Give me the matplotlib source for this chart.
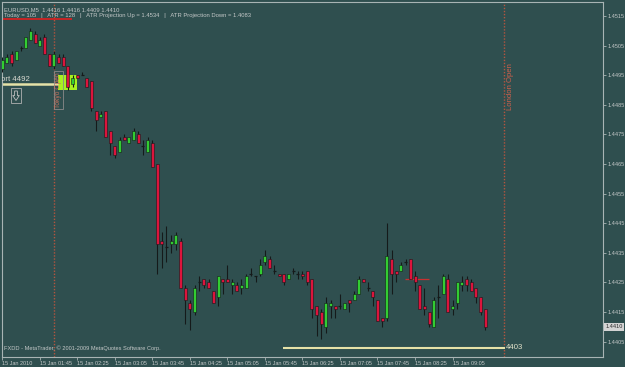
import matplotlib
matplotlib.use('Agg')
import matplotlib.pyplot as plt
from matplotlib.patches import Rectangle, Polygon
import numpy as np

# EURUSD M5, 15 Jan 2010, bars from 01:05 to 09:40
opens = [
    1.4497, 1.4499, 1.4502, 1.4500, 1.4504, 1.4504, 1.4507, 1.4509,
    1.4505, 1.4508, 1.4502, 1.4498, 1.4501, 1.4501, 1.4498, 1.4492,
    1.4495, 1.4495, 1.4494, 1.4493, 1.4483, 1.4481, 1.4483, 1.4476,
    1.4471, 1.4469, 1.4474, 1.4472, 1.4473, 1.4475, 1.4471, 1.4469,
    1.4472, 1.4465, 1.4439, 1.4437, 1.4438, 1.4438, 1.4439, 1.4423,
    1.4418, 1.4415, 1.4425, 1.4426, 1.4425, 1.4422, 1.4420, 1.4426,
    1.4426, 1.4424, 1.4424, 1.4423, 1.4423, 1.4428, 1.4427, 1.4428,
    1.4432, 1.4433, 1.4429, 1.4428, 1.4428, 1.4426, 1.4429, 1.4428,
    1.4428, 1.4429, 1.4426, 1.4417, 1.4415, 1.4410, 1.4417, 1.4417,
    1.4417, 1.4416, 1.4419, 1.4419, 1.4421, 1.4426, 1.4423, 1.4422,
    1.4419, 1.4413, 1.4413, 1.4433, 1.4429, 1.4429, 1.4432, 1.4433,
    1.4427, 1.4424, 1.4417, 1.4415, 1.4410, 1.4420, 1.4421, 1.4426,
    1.4416, 1.4418, 1.4424, 1.4426, 1.4425, 1.4423, 1.4420, 1.4416,
]
highs = [
    1.4501, 1.4502, 1.4503, 1.4503, 1.4505, 1.4508, 1.4511, 1.4510,
    1.4508, 1.4509, 1.4502, 1.4503, 1.4502, 1.4502, 1.4498, 1.4495,
    1.4495, 1.4496, 1.4494, 1.4493, 1.4483, 1.4483, 1.4483, 1.4476,
    1.4471, 1.4474, 1.4475, 1.4474, 1.4477, 1.4476, 1.4473, 1.4474,
    1.4473, 1.4465, 1.4442, 1.4444, 1.4441, 1.4442, 1.4440, 1.4424,
    1.4419, 1.4424, 1.4427, 1.4426, 1.4426, 1.4422, 1.4427, 1.4426,
    1.4431, 1.4426, 1.4425, 1.4426, 1.4428, 1.4430, 1.4427, 1.4433,
    1.4436, 1.4434, 1.4431, 1.4428, 1.4428, 1.4428, 1.4430, 1.4429,
    1.4429, 1.4429, 1.4426, 1.4417, 1.4416, 1.4420, 1.4419, 1.4417,
    1.4421, 1.4418, 1.4419, 1.4422, 1.4427, 1.4426, 1.4425, 1.4422,
    1.4419, 1.4413, 1.4445, 1.4436, 1.4429, 1.4432, 1.4433, 1.4433,
    1.4429, 1.4424, 1.4423, 1.4415, 1.4420, 1.4424, 1.4428, 1.4428,
    1.4419, 1.4425, 1.4427, 1.4427, 1.4426, 1.4423, 1.4420, 1.4416,
]
lows = [
    1.4496, 1.4499, 1.4498, 1.4500, 1.4503, 1.4504, 1.4507, 1.4506,
    1.4505, 1.4502, 1.4498, 1.4497, 1.4499, 1.4498, 1.4490, 1.4491,
    1.4494, 1.4495, 1.4491, 1.4483, 1.4476, 1.4481, 1.4474, 1.4468,
    1.4467, 1.4469, 1.4473, 1.4472, 1.4473, 1.4472, 1.4468, 1.4469,
    1.4464, 1.4428, 1.4430, 1.4432, 1.4435, 1.4436, 1.4423, 1.4411,
    1.4409, 1.4414, 1.4422, 1.4423, 1.4423, 1.4418, 1.4417, 1.4421,
    1.4425, 1.4421, 1.4422, 1.4421, 1.4423, 1.4427, 1.4425, 1.4427,
    1.4431, 1.4430, 1.4428, 1.4427, 1.4424, 1.4426, 1.4428, 1.4426,
    1.4426, 1.4424, 1.4413, 1.4407, 1.4406, 1.4408, 1.4413, 1.4413,
    1.4416, 1.4416, 1.4415, 1.4419, 1.4421, 1.4425, 1.4422, 1.4417,
    1.4412, 1.4410, 1.4412, 1.4421, 1.4425, 1.4429, 1.4431, 1.4426,
    1.4422, 1.4416, 1.4414, 1.4410, 1.4410, 1.4413, 1.4421, 1.4415,
    1.4414, 1.4416, 1.4422, 1.4422, 1.4422, 1.4418, 1.4414, 1.4409,
]
closes = [
    1.4500, 1.4501, 1.4499, 1.4503, 1.4504, 1.4508, 1.4510, 1.4506,
    1.4507, 1.4502, 1.4498, 1.4502, 1.4499, 1.4498, 1.4491, 1.4494,
    1.4494, 1.4495, 1.4491, 1.4484, 1.4480, 1.4482, 1.4474, 1.4472,
    1.4468, 1.4473, 1.4473, 1.4474, 1.4476, 1.4472, 1.4471, 1.4473,
    1.4464, 1.4438, 1.4438, 1.4437, 1.4439, 1.4441, 1.4423, 1.4419,
    1.4416, 1.4423, 1.4425, 1.4424, 1.4423, 1.4418, 1.4427, 1.4425,
    1.4425, 1.4425, 1.4422, 1.4424, 1.4427, 1.4428, 1.4427, 1.4431,
    1.4434, 1.4430, 1.4429, 1.4427, 1.4425, 1.4428, 1.4429, 1.4428,
    1.4427, 1.4425, 1.4416, 1.4414, 1.4411, 1.4418, 1.4418, 1.4416,
    1.4417, 1.4418, 1.4418, 1.4421, 1.4426, 1.4425, 1.4423, 1.4420,
    1.4412, 1.4412, 1.4434, 1.4428, 1.4428, 1.4431, 1.4432, 1.4426,
    1.4425, 1.4416, 1.4416, 1.4411, 1.4419, 1.4420, 1.4427, 1.4415,
    1.4417, 1.4425, 1.4425, 1.4424, 1.4422, 1.4420, 1.4415, 1.4410,
]

price_ticks = [1.4515, 1.4505, 1.4495, 1.4485, 1.4475, 1.4465, 1.4455,
               1.4445, 1.4435, 1.4425, 1.4415, 1.4405]
time_tick_bars = [0, 8, 16, 24, 32, 40, 48, 56, 64, 72, 80, 88, 96]
time_tick_labels = ['15 Jan 2010', '15 Jan 01:45', '15 Jan 02:25', '15 Jan 03:05',
                    '15 Jan 03:45', '15 Jan 04:25', '15 Jan 05:05', '15 Jan 05:45',
                    '15 Jan 06:25', '15 Jan 07:05', '15 Jan 07:45', '15 Jan 08:25',
                    '15 Jan 09:05']

last_price = 1.4410
support_hi = 1.4492
support_lo = 1.4403
day_high_line = 1.4514
order_line = 1.4426
tokyo_bar = 11
london_bar = 107
box_bars = (11.9, 15.9)
box_prices = (1.4490, 1.4495)

bg = '#2f4f4f'
txt = '#c4c8c8'
green = '#32cd32'
red = '#dc143c'
dark = '#151a1a'
session = '#b4553f'

fig = plt.figure(figsize=(6.25, 3.67), dpi=100, facecolor=bg)
ax = fig.add_axes([2 / 625, 10 / 367, 601 / 625, 355 / 367], facecolor=bg)
ax.set_xlim(-0.06, 128.08)
ax.set_ylim(1.43998, 1.45197)

for s in ax.spines.values():
    s.set_color('#a8b4b4')
    s.set_linewidth(0.8)

x = np.arange(len(opens))
o = np.array(opens)
h = np.array(highs)
l = np.array(lows)
c = np.array(closes)

# session box and levels (behind candles)
ax.add_patch(Rectangle((box_bars[0], box_prices[0]), box_bars[1] - box_bars[0],
                       box_prices[1] - box_prices[0], facecolor='#a8f020',
                       edgecolor='none', zorder=1))
ax.axvline(tokyo_bar, color=session, lw=1, ls=(0, (1, 1.2)), zorder=1)
ax.axvline(london_bar, color=session, lw=1, ls=(0, (1, 1.2)), zorder=1)
ax.hlines(support_hi, -1, 11.9, color='#e6e2a8', lw=1.8, zorder=2)
ax.hlines(support_lo, 59.8, 107.2, color='#e6e2a8', lw=1.5, zorder=2)
ax.hlines(day_high_line, 0, 14.9, color='#e01e1e', lw=1.2, zorder=2)
ax.hlines(order_line, 85.9, 91.0, color='#c83030', lw=0.9, zorder=2)

# candles
w = 0.64
ax.vlines(x, l, h, color=dark, lw=0.8, zorder=3)
up = c > o
dn = c < o
dj = c == o
ax.bar(x[up], (c - o)[up], bottom=o[up], width=w, color=green,
       edgecolor=dark, linewidth=0.4, zorder=4)
ax.bar(x[dn], (o - c)[dn], bottom=c[dn], width=w, color=red,
       edgecolor=dark, linewidth=0.4, zorder=4)
ax.hlines(c[dj], x[dj] - w / 2, x[dj] + w / 2, color=dark, lw=0.9, zorder=4)

# right price scale
ax.yaxis.tick_right()
ax.set_yticks(price_ticks)
ax.set_yticklabels([f'{p:.4f}' for p in price_ticks])
ax.tick_params(axis='y', length=2, width=0.6, color='#a8b4b4', pad=1.5,
               labelsize=4, labelcolor=txt)
for t in ax.get_yticklabels():
    t.set_fontfamily('Liberation Sans')
ax.text(1.0045, last_price, f'{last_price:.4f}', transform=ax.get_yaxis_transform(),
        ha='left', va='center', fontsize=4, color='#2a2a2a', family='Liberation Sans',
        bbox=dict(boxstyle='square,pad=0.25', fc='#d4d4d4', ec='none'), clip_on=False)

# time scale
ax.set_xticks(time_tick_bars)
ax.set_xticklabels(time_tick_labels)
ax.tick_params(axis='x', length=2, width=0.6, color='#a8b4b4', pad=1,
               labelsize=4, labelcolor=txt)
for t in ax.get_xticklabels():
    t.set_fontfamily('Liberation Sans')
    t.set_horizontalalignment('left')

# texts
ax.text(0.004, 0.986, 'EURUSD,M5  1.4416 1.4416 1.4409 1.4410', transform=ax.transAxes,
        ha='left', va='top', fontsize=4.2, color=txt, family='Liberation Sans')
ax.text(0.004, 0.968, 'Today = 105   |   ATR = 128   |   ATR Projection Up = 1.4534   |   '
        'ATR Projection Down = 1.4083', transform=ax.transAxes,
        ha='left', va='top', fontsize=4.2, color=txt, family='Liberation Sans')
ax.text(0.004, 0.018, 'FXDD - MetaTrader, \u00a9 2001-2009 MetaQuotes Software Corp.',
        transform=ax.transAxes, ha='left', va='bottom', fontsize=4.1, color=txt,
        family='Liberation Sans')

# label is cut by the left edge in the original chart ("ort 4492")
t = ax.text(5.9, support_hi + 0.00005, 'Support 4492', ha='right', va='bottom',
            fontsize=5.6, color='#d8d8d0', family='Liberation Sans', zorder=5)
t.set_clip_on(True)
ax.text(107.4, support_lo, '4403', ha='left', va='center', fontsize=5.6,
        color='#e0e0c8', family='Liberation Sans', zorder=5)

ax.text(11.95, 1.4490, 'Tokyo Open', rotation=90, ha='center', va='center',
        fontsize=4.8, color='#c8705c', family='Liberation Sans', zorder=5,
        bbox=dict(boxstyle='square,pad=0.15', fc='none', ec='#8a8a8a', lw=0.6))
ax.text(108.4, 1.4491, 'London Open', rotation=90, ha='center', va='center',
        fontsize=5.6, color='#d0604c', family='Liberation Sans', zorder=5)

# small hollow down-arrow icon under the support label
ax.add_patch(Rectangle((1.85, 1.44856), 2.15, 0.00051, facecolor='none',
                       edgecolor='#b0b0b0', lw=0.6, zorder=5))
arrow_px = [(14.6, 91), (17.4, 91), (17.4, 95.5), (19.3, 95.5), (16, 100.5),
            (12.7, 95.5), (14.6, 95.5)]
fig.add_artist(Polygon([(px / 625, 1 - py / 367) for px, py in arrow_px],
                       closed=True, facecolor='none', edgecolor='#c0c0c0',
                       lw=0.6, transform=fig.transFigure, zorder=6))

fig.savefig('out.png', dpi=100, facecolor=bg)
